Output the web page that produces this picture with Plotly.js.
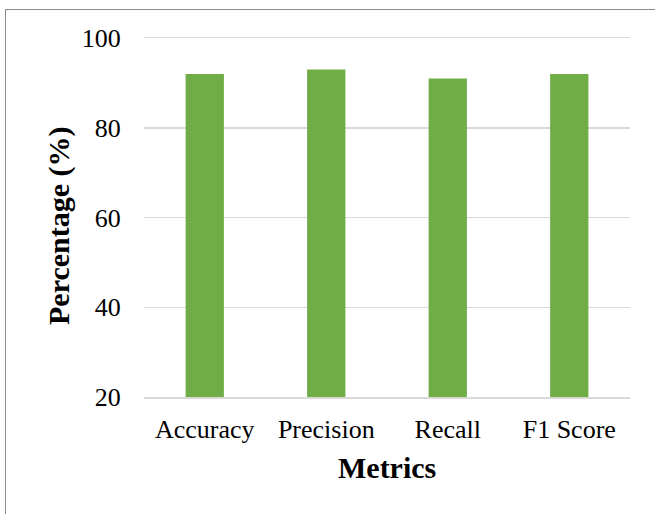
<!DOCTYPE html>
<html>
<head>
<meta charset="utf-8">
<script src="https://cdn.plot.ly/plotly-3.0.1.min.js"></script>
<style>
  html, body { margin: 0; padding: 0; background: #ffffff; }
  #wrap { position: relative; width: 655px; height: 514px; overflow: hidden; }
  #chart { position: absolute; left: 0; top: 0; width: 655px; height: 514px; }
  #frame {
    position: absolute; left: 5px; top: 9px; width: 700px; height: 600px;
    border-left: 1.5px solid #8c8c8c; border-top: 1.5px solid #8c8c8c;
    pointer-events: none;
  }
</style>
</head>
<body>
<div id="wrap">
  <div id="chart"></div>
  <div id="frame"></div>
</div>
<script>
// Classification metrics (percent)
const metrics = ["Accuracy", "Precision", "Recall", "F1 Score"];
const scores = [92, 93, 91, 92];
const yTicks = [20, 40, 60, 80, 100];
const xTitle = "Metrics";
const yTitle = "Percentage (%)";

const serif = "'Liberation Serif', 'Times New Roman', serif";
const gridGray = "#d9d9d9";

const trace = {
  type: "bar",
  x: metrics,
  y: scores,
  marker: { color: "#70ad47", line: { width: 0 } },
  hoverinfo: "x+y"
};

const layout = {
  width: 655,
  height: 514,
  margin: { l: 144, r: 25, t: 38, b: 117 },
  paper_bgcolor: "rgba(0,0,0,0)",
  plot_bgcolor: "#ffffff",
  bargap: 0.685,
  showlegend: false,
  font: { family: serif, color: "#000000" },
  xaxis: {
    type: "category",
    showgrid: false,
    zeroline: false,
    // top and bottom rules stand in for the 100 and 20 gridlines
    showline: true,
    mirror: true,
    linecolor: gridGray,
    linewidth: 1.5,
    ticks: "outside",
    ticklen: 8,
    tickcolor: "rgba(0,0,0,0)",
    tickfont: { family: serif, size: 26, color: "#000000" }
  },
  yaxis: {
    range: [20, 100],
    tickvals: yTicks,
    ticktext: yTicks.map(String),
    showgrid: true,
    gridcolor: gridGray,
    gridwidth: 1.5,
    zeroline: false,
    showline: false,
    ticks: "outside",
    ticklen: 17,
    tickcolor: "rgba(0,0,0,0)",
    tickfont: { family: serif, size: 26, color: "#000000" }
  },
  annotations: [
    {
      text: "<b>" + xTitle + "</b>",
      xref: "paper", yref: "paper",
      x: 0.5, y: -0.195,
      xanchor: "center", yanchor: "middle",
      showarrow: false,
      font: { family: serif, size: 30, color: "#000000" }
    },
    {
      text: "<b>" + yTitle + "</b>",
      xref: "paper", yref: "paper",
      x: -0.175, y: 0.479,
      xanchor: "center", yanchor: "middle",
      textangle: -90,
      showarrow: false,
      font: { family: serif, size: 30, color: "#000000" }
    }
  ]
};

Plotly.newPlot("chart", [trace], layout, { displayModeBar: false, staticPlot: true });
</script>
</body>
</html>
